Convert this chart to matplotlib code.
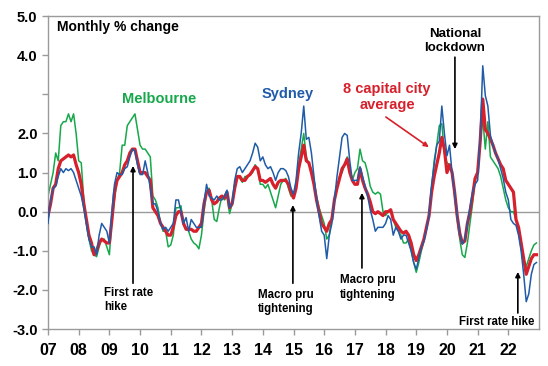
import numpy as np
import matplotlib
matplotlib.use("Agg")
import matplotlib.pyplot as plt

plt.rcParams['font.family'] = ['Liberation Sans', 'DejaVu Sans']
plt.rcParams['font.weight'] = 'bold'

# monthly % change, Jan 2007 - Dec 2022
melbourne = [
    0.4, 0.7, 1.0, 1.5, 1.3, 2.2, 2.3, 2.3, 2.5, 2.3, 2.5, 2.0,          # 2007
    1.3, 1.25, 0.3, -0.3, -0.7, -1.0, -1.1, -1.15, -0.9, -0.7, -0.7, -0.9,  # 2008
    -1.1, -0.2, 0.3, 0.8, 1.0, 1.7, 1.7, 2.2, 2.3, 2.4, 2.5, 2.1,        # 2009
    1.7, 1.6, 1.6, 1.5, 1.4, 0.4, 0.3, 0.1, -0.3, -0.5, -0.5, -0.9,      # 2010
    -0.85, -0.6, 0.1, 0.1, 0.15, -0.35, -0.4, -0.5, -0.7, -0.8, -0.85, -0.95,  # 2011
    -0.6, 0.0, 0.5, 0.6, 0.3, -0.2, -0.25, 0.1, 0.4, 0.3, 0.4, -0.05,    # 2012
    0.2, 0.7, 0.9, 0.85, 0.75, 0.9, 0.9, 0.95, 1.0, 1.2, 1.1, 0.7,       # 2013
    0.7, 0.6, 0.7, 0.5, 0.3, 0.1, 0.4, 0.7, 0.8, 0.85, 0.6, 0.4,         # 2014
    0.4, 0.6, 1.2, 1.6, 2.0, 1.4, 1.2, 1.1, 0.8, 0.4, 0.1, -0.1,         # 2015
    -0.3, -0.7, -0.6, -0.1, 0.3, 0.6, 0.9, 1.0, 1.2, 1.4, 1.1, 0.8,      # 2016
    1.0, 1.1, 1.6, 1.3, 1.25, 1.0, 0.65, 0.5, 0.45, 0.5, 0.45, 0.0,      # 2017
    -0.1, 0.0, 0.05, -0.2, -0.4, -0.5, -0.6, -0.8, -0.8, -0.7, -1.0, -1.3,  # 2018
    -1.55, -1.3, -1.0, -0.75, -0.4, -0.1, 0.6, 1.3, 1.7, 2.2, 2.25, 1.5,  # 2019
    1.25, 1.2, 1.0, 0.4, -0.2, -0.7, -1.1, -1.17, -0.8, -0.3, 0.2, 0.8,  # 2020
    1.0, 1.8, 2.4, 1.6, 2.3, 1.4, 1.3, 1.2, 1.1, 0.9, 0.6, 0.3,          # 2021
    0.1, 0.0, 0.0, -0.2, -0.5, -0.8, -1.2, -1.4, -1.2, -1.0, -0.85, -0.8,  # 2022
]
sydney = [
    -0.3, 0.3, 0.6, 0.65, 0.9, 1.1, 1.0, 1.1, 1.05, 1.1, 1.0, 0.8,
    0.6, 0.4, 0.1, -0.3, -0.7, -0.9, -0.9, -1.1, -0.6, -0.3, -0.4, -0.5,
    -0.8, 0.0, 0.7, 1.0, 0.95, 0.95, 1.1, 1.15, 1.4, 1.6, 1.55, 1.2,
    0.95, 0.95, 1.3, 1.0, 0.6, 0.2, 0.2, 0.0, -0.3, -0.45, -0.4, -0.5,
    -0.4, -0.3, 0.3, 0.3, 0.0, -0.3, -0.15, -0.5, -0.2, -0.3, -0.4, -0.4,
    -0.4, 0.2, 0.7, 0.4, 0.35, 0.3, 0.4, 0.3, 0.3, 0.4, 0.55, 0.1,
    0.2, 0.8, 1.1, 1.15, 1.0, 1.1, 1.2, 1.3, 1.5, 1.75, 1.65, 1.3,
    1.4, 1.2, 1.1, 1.15, 1.0, 0.8, 1.0, 1.1, 1.1, 1.05, 0.9, 0.6,
    0.45, 0.8, 1.5, 2.0, 2.7, 1.85, 1.9, 1.5, 0.9, 0.3, -0.1, -0.5,
    -0.6, -1.2, -0.6, -0.3, 0.3, 0.9, 1.4, 1.9, 2.0, 1.95, 1.3, 0.8,
    0.8, 0.8, 1.15, 0.9, 0.65, 0.4, 0.05, -0.2, -0.5, -0.4, -0.4, -0.4,
    -0.3, -0.1, -0.2, -0.6, -0.4, -0.5, -0.7, -0.6, -0.6, -0.8, -1.0, -1.3,
    -1.47, -1.2, -0.9, -0.75, -0.45, -0.1, 0.7, 1.2, 1.7, 1.8, 2.7, 2.0,
    1.43, 1.7, 1.0, 0.5, -0.1, -0.55, -0.83, -0.7, -0.3, 0.1, 0.5, 0.7,
    0.8, 1.9, 3.73, 2.97, 2.7, 1.95, 1.7, 1.5, 1.35, 1.1, 0.85, 0.5,
    0.3, -0.2, -0.3, -0.35, -0.6, -1.0, -1.6, -2.3, -2.1, -1.6, -1.35, -1.3,
]
capitals = [
    -0.1, 0.2, 0.6, 0.7, 1.1, 1.3, 1.35, 1.4, 1.45, 1.4, 1.45, 1.2,
    1.0, 0.7, 0.2, -0.2, -0.6, -0.8, -1.1, -1.0, -0.8, -0.7, -0.75, -0.8,
    -0.8, -0.2, 0.5, 0.8, 0.9, 1.0, 1.2, 1.3, 1.5, 1.6, 1.6, 1.3,
    1.0, 1.0, 1.0, 0.9, 0.8, 0.1, 0.0, -0.1, -0.3, -0.4, -0.5, -0.6,
    -0.6, -0.4, -0.1, 0.0, 0.0, -0.3, -0.45, -0.45, -0.45, -0.5, -0.5, -0.4,
    -0.3, 0.2, 0.5, 0.55, 0.3, 0.2, 0.25, 0.35, 0.4, 0.35, 0.5, 0.1,
    0.2, 0.6, 0.9, 0.9, 0.8, 0.8, 0.9, 0.95, 1.05, 1.15, 1.1, 0.8,
    0.8, 0.75, 0.8, 0.85, 0.7, 0.6, 0.75, 0.8, 0.8, 0.8, 0.7, 0.5,
    0.35, 0.6, 1.1, 1.4, 1.7, 1.3, 1.25, 1.0, 0.7, 0.3, 0.0, -0.3,
    -0.4, -0.5, -0.3, -0.2, 0.3, 0.6, 0.85, 1.1, 1.2, 1.35, 1.0, 0.8,
    0.7, 0.7, 1.1, 0.8, 0.6, 0.45, 0.25, 0.0, -0.05, 0.0, -0.05, -0.1,
    0.0, 0.0, 0.05, -0.2, -0.3, -0.4, -0.5, -0.55, -0.5, -0.6, -0.8, -1.1,
    -1.25, -1.1, -0.9, -0.7, -0.4, -0.1, 0.5, 0.9, 1.2, 1.5, 1.9, 1.6,
    1.0, 1.2, 1.0, 0.5, -0.1, -0.55, -0.8, -0.75, -0.3, 0.0, 0.4, 0.85,
    1.0, 1.8, 2.88, 2.1, 2.0, 1.86, 1.7, 1.5, 1.35, 1.2, 1.1, 0.8,
    0.7, 0.6, 0.5, -0.2, -0.4, -0.8, -1.2, -1.6, -1.4, -1.2, -1.1, -1.1,
]
years = list(range(2007, 2023))
year_labels = [f"{y % 100:02d}" for y in years]
yticks = [-3, -2, -1, 0, 1, 2, 3, 4, 5]
ytick_labels = ['-3.0', '-2.0', '-1.0', '0.0', '1.0', '2.0', '', '4.0', '5.0']

GREEN = '#16A84A'
BLUE = '#1F5BA8'
RED = '#D6202C'
GREY = '#9A9A9A'


def main():
    t = 2007 + np.arange(len(capitals)) / 12

    fig = plt.figure(figsize=(5.48, 3.66), dpi=100)
    ax = fig.add_axes([0.0876, 0.101, 0.896, 0.855])

    ax.axhline(0, color=GREY, lw=1.0, zorder=1)
    ax.plot(t, melbourne, color=GREEN, lw=1.1, zorder=2)
    ax.plot(t, capitals, color=RED, lw=2.3, zorder=3, solid_joinstyle='round')
    ax.plot(t, sydney, color=BLUE, lw=1.1, zorder=4)

    ax.set_xlim(2007, 2023)
    ax.set_ylim(-3, 5)
    ax.set_xticks(years)
    ax.set_xticklabels(year_labels, fontsize=11.5, fontweight='bold')
    ax.set_yticks(yticks)
    ax.set_yticklabels(ytick_labels, fontsize=10.5, fontweight='bold')
    ax.tick_params(axis='both', direction='out', length=4, color=GREY, width=1)
    ax.tick_params(axis='x', pad=6)
    for s in ax.spines.values():
        s.set_color(GREY)
        s.set_linewidth(1)

    ax.text(2007.29, 4.72, 'Monthly % change', fontsize=10, fontweight='bold',
            ha='left', va='center')
    ax.text(2010.62, 2.88, 'Melbourne', color=GREEN, fontsize=10.5,
            fontweight='bold', ha='center', va='center')
    ax.text(2014.82, 3.01, 'Sydney', color=BLUE, fontsize=10.5,
            fontweight='bold', ha='center', va='center')
    ax.text(2018.05, 2.93, '8 capital city\naverage', color=RED, fontsize=10.5,
            fontweight='bold', ha='center', va='center', linespacing=1.15)
    ax.annotate('', xy=(2019.41, 1.65), xytext=(2018.01, 2.42),
                arrowprops=dict(arrowstyle='-|>', color=RED, lw=1.2,
                                mutation_scale=7, shrinkA=0, shrinkB=0))

    ax.text(2020.26, 4.36, 'National\nlockdown', fontsize=9.5, fontweight='bold',
            ha='center', va='center', linespacing=1.15)
    ax.text(2008.82, -2.26, 'First rate\nhike', fontsize=8.3, fontweight='bold',
            ha='left', va='center', linespacing=1.3)
    ax.text(2013.84, -2.31, 'Macro pru\ntightening', fontsize=8.3, fontweight='bold',
            ha='left', va='center', linespacing=1.3)
    ax.text(2016.51, -1.93, 'Macro pru\ntightening', fontsize=8.3, fontweight='bold',
            ha='left', va='center', linespacing=1.3)
    ax.text(2022.84, -2.82, 'First rate hike', fontsize=8.3, fontweight='bold',
            ha='right', va='center')

    arrows = [
        ((2020.26, 1.60), (2020.26, 3.95)),
        ((2009.77, 1.17), (2009.77, -1.83)),
        ((2014.98, 0.17), (2014.98, -1.83)),
        ((2017.23, 0.48), (2017.23, -1.44)),
        ((2022.31, -1.54), (2022.31, -2.59)),
    ]
    for head, tail in arrows:
        ax.annotate('', xy=head, xytext=tail,
                    arrowprops=dict(arrowstyle='-|>', color='black', lw=1.2,
                                    mutation_scale=7, shrinkA=0, shrinkB=0))

    fig.savefig('out.png', dpi=100)


if __name__ == "__main__":
    main()
